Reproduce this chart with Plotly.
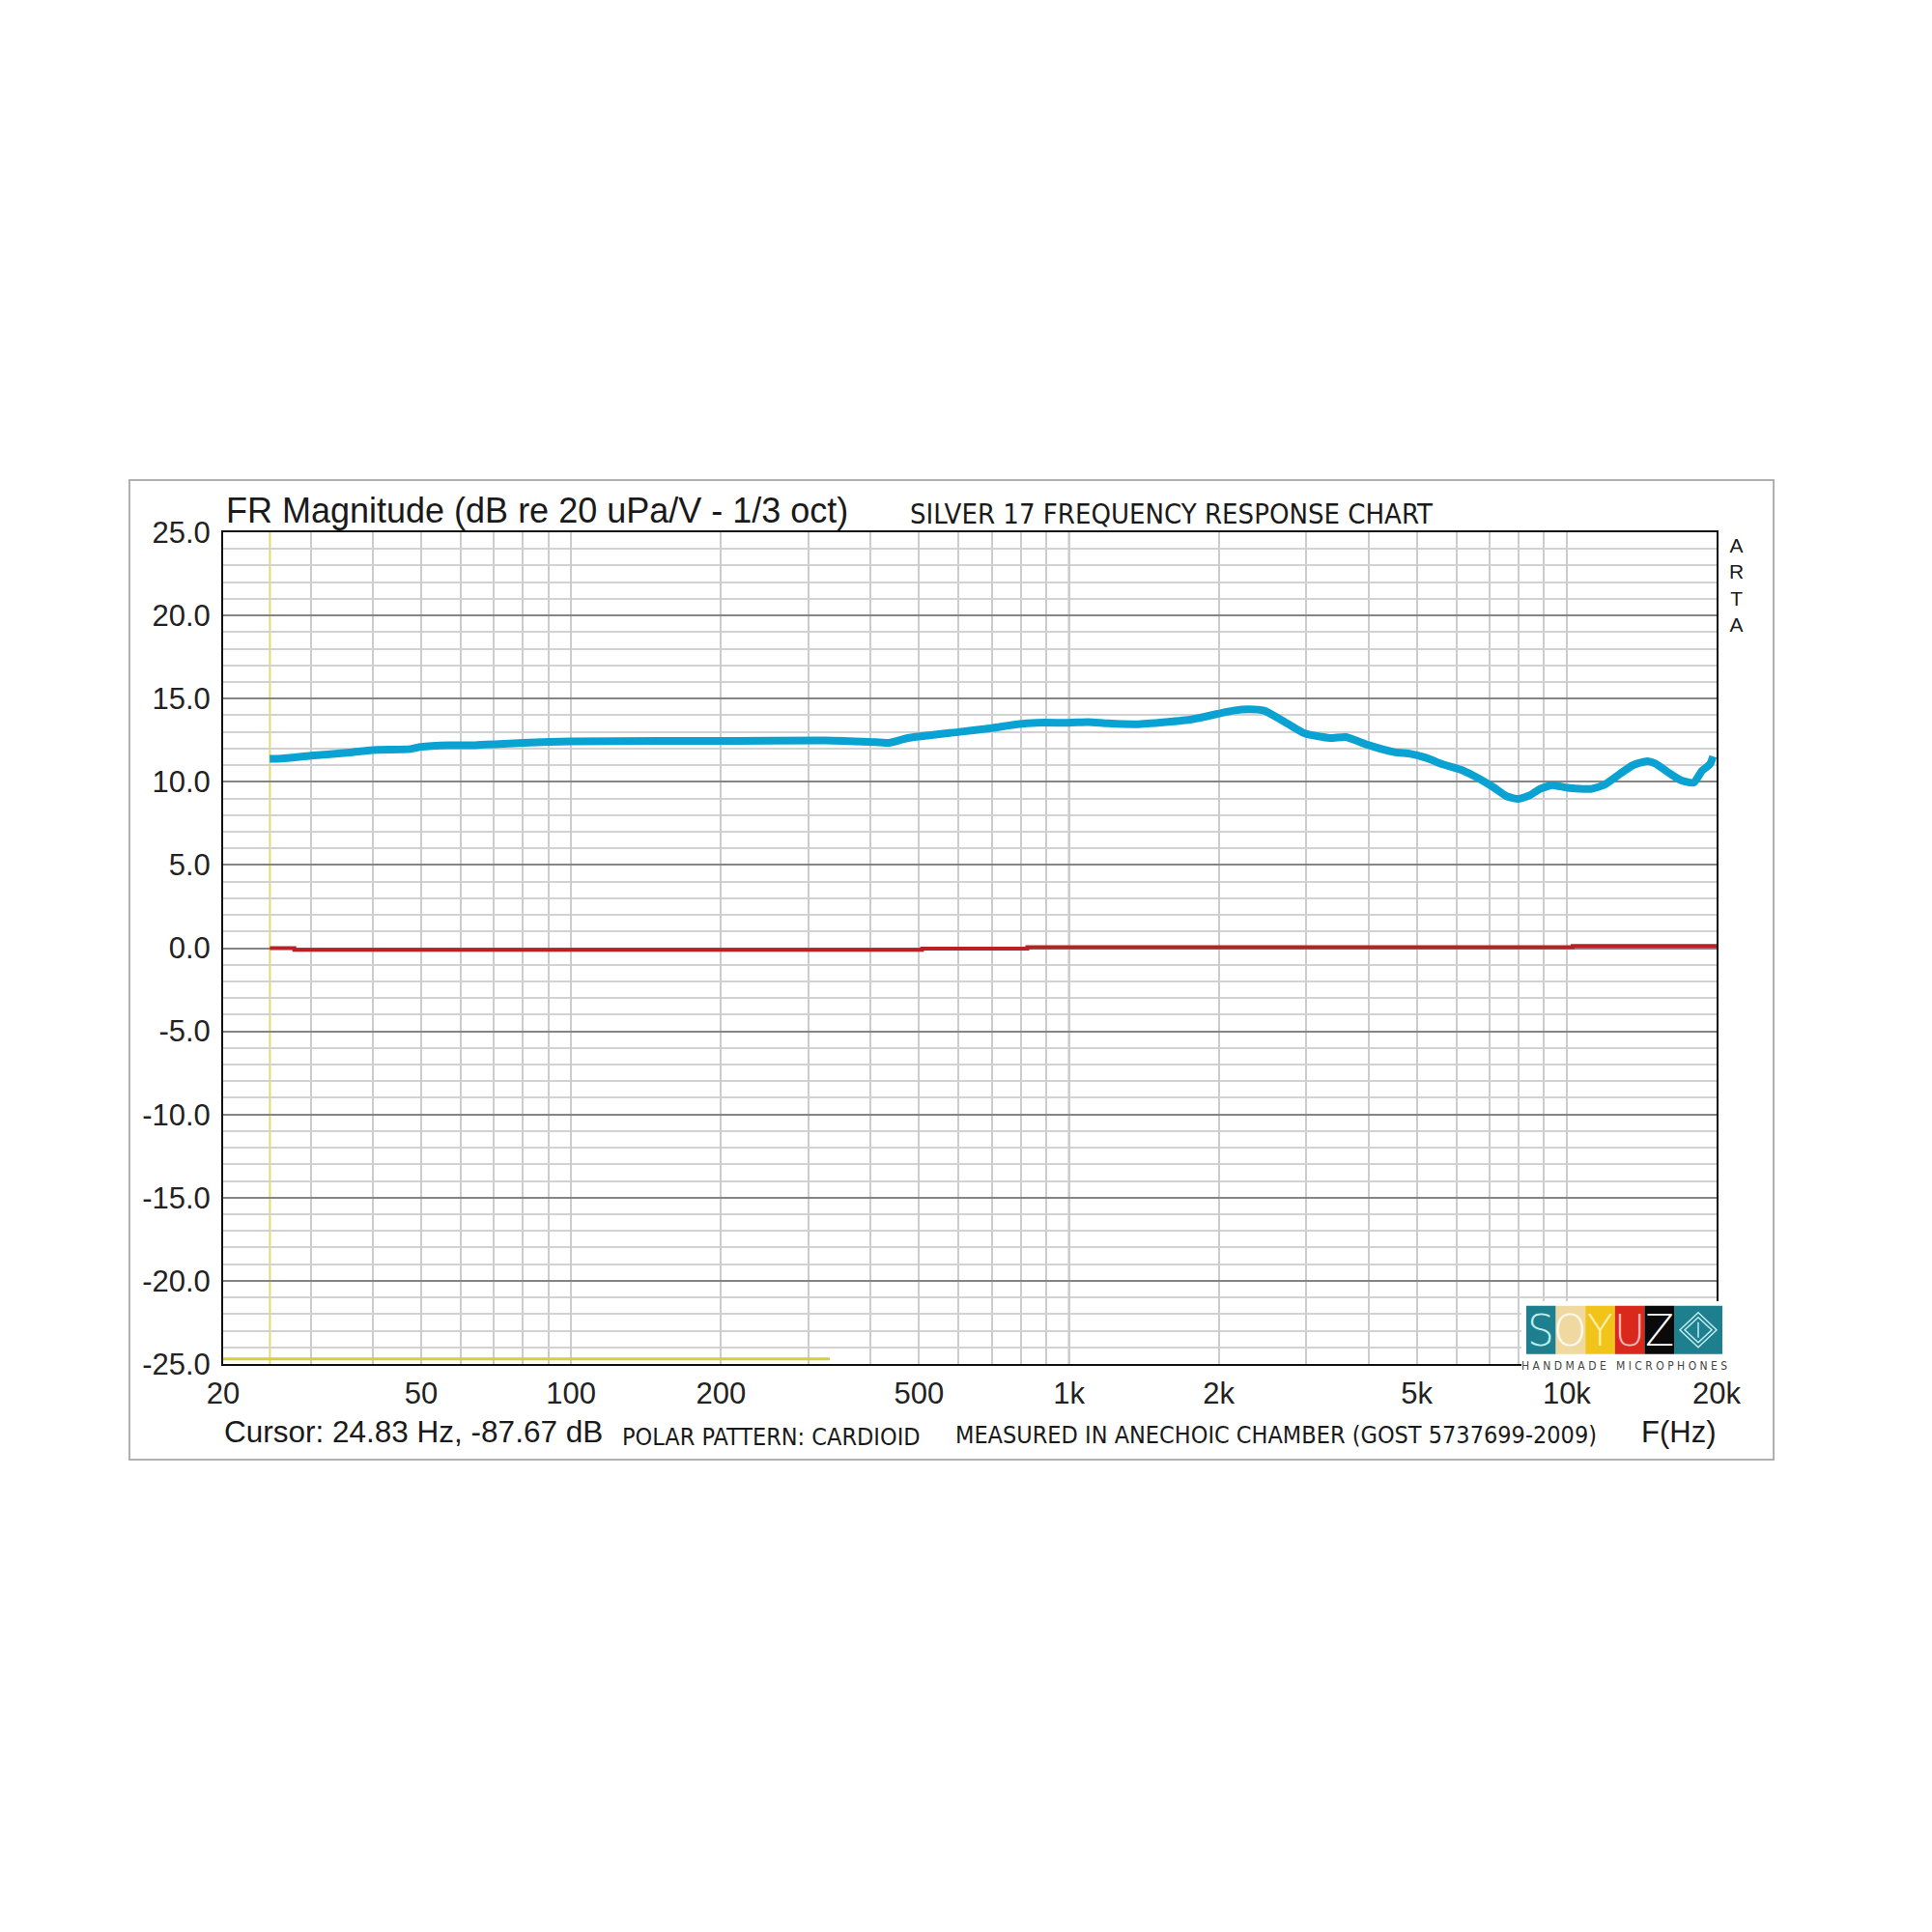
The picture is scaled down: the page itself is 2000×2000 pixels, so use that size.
import numpy as np
import plotly.graph_objects as go

# --- data ---
freq_hz = [24.8, 26.2, 30, 35.9, 39.9, 47.6, 49.9, 56.9, 64.1, 80.1, 90.3, 100,
           150, 199, 323, 398, 435, 475, 603, 700, 788, 862, 1000, 1094, 1197,
           1368, 1565, 1763, 1986, 2140, 2304, 2465, 2675, 2968, 3344, 3603,
           4000, 4506, 4853, 5230, 5634, 6161, 6636, 7150, 7589, 7995, 8424,
           8808, 9345, 10040, 11180, 11870, 12780, 13570, 14510, 15060, 15980,
           16960, 18000, 18690, 19390, 19680]
mag_db = [11.38, 11.40, 11.57, 11.76, 11.91, 11.97, 12.10, 12.20, 12.20, 12.34,
          12.40, 12.43, 12.45, 12.45, 12.49, 12.40, 12.34, 12.63, 13.00, 13.23,
          13.46, 13.55, 13.55, 13.59, 13.51, 13.46, 13.59, 13.75, 14.08, 14.28,
          14.36, 14.28, 13.71, 12.92, 12.63, 12.69, 12.20, 11.78, 11.68, 11.43,
          11.05, 10.70, 10.22, 9.64, 9.12, 8.97, 9.18, 9.55, 9.80, 9.64, 9.57,
          9.80, 10.47, 10.99, 11.24, 11.10, 10.57, 10.09, 9.95, 10.66, 11.05,
          11.53]

ref_freq = [24.83, 27.8, 507, 825, 10280, 20000]
ref_db = [0.0, -0.1, -0.03, 0.06, 0.13, 0.13]

cursor_hz = 24.83
cursor_bar_hz = [20, 331]
cursor_bar_db = [-24.7, -24.7]

x_labels = {20: "20", 50: "50", 100: "100", 200: "200", 500: "500",
            1000: "1k", 2000: "2k", 5000: "5k", 10000: "10k", 20000: "20k"}
x_minor = [30, 40, 60, 70, 80, 90, 300, 400, 600, 700, 800, 900,
           3000, 4000, 6000, 7000, 8000, 9000]
x_decades = [100, 1000, 10000]
y_ticks = [-25, -20, -15, -10, -5, 0, 5, 10, 15, 20, 25]

logo_letters = ["S", "O", "Y", "U", "Z"]
logo_fill = ["#1e7f8e", "#efd9a0", "#f0c419", "#d9291c", "#0a0a0a"]
logo_ink = ["#bfeef2", "#fffaf0", "#fdf0b0", "#f8b8b8", "#ffffff"]

ARIAL = "Liberation Sans, Arial, sans-serif"
THIN = "DejaVu Sans Condensed, sans-serif"

# plot area in page pixels; the page body adds an 8px offset
OFF = 8
L, R, T, B = 231, 1777, 551, 1412


def px(x):
    return (x - L) / (R - L)


def py(y):
    return (B - y) / (B - T)


fig = go.Figure()

fig.add_trace(go.Scatter(x=cursor_bar_hz, y=cursor_bar_db, mode="lines",
                         line=dict(color="#d6cf3a", width=3), hoverinfo="skip"))
fig.add_trace(go.Scatter(x=ref_freq, y=ref_db, mode="lines", line_shape="hv",
                         line=dict(color="#b82226", width=4)))
fig.add_trace(go.Scatter(x=freq_hz, y=mag_db, mode="lines",
                         line=dict(color="#0aa2d2", width=8, shape="spline",
                                   smoothing=0.5)))

shapes = []
for d in x_decades:
    shapes.append(dict(type="line", xref="x", yref="paper", x0=d, x1=d, y0=0, y1=1,
                       line=dict(color="#707070", width=1.5), layer="between"))
shapes.append(dict(type="line", xref="x", yref="paper", x0=cursor_hz, x1=cursor_hz,
                   y0=0, y1=1, line=dict(color="#e2da72", width=2), layer="between"))
# outer frame
shapes.append(dict(type="rect", xref="paper", yref="paper", x0=px(134), x1=px(1836),
                   y0=py(1511), y1=py(497), line=dict(color="#b0b0b0", width=2)))
# logo
shapes.append(dict(type="rect", xref="paper", yref="paper", x0=px(1575), x1=px(1795),
                   y0=py(1424), y1=py(1347), fillcolor="white", line=dict(width=0),
                   layer="above"))
bx = 1580
bw = 30.6
annotations = []
for i, (ch, fc, ink) in enumerate(zip(logo_letters, logo_fill, logo_ink)):
    x0 = bx + i * bw
    shapes.append(dict(type="rect", xref="paper", yref="paper", x0=px(x0), x1=px(x0 + bw),
                       y0=py(1401.7), y1=py(1351.7), fillcolor=fc, line=dict(width=0),
                       layer="above"))
    annotations.append(dict(x=px(x0 + bw / 2), y=py(1377), text=ch, showarrow=False,
                            xref="paper", yref="paper", xanchor="center", yanchor="middle",
                            font=dict(family="DejaVu Sans, sans-serif", size=44,
                                      color=ink, weight=200)))
x0 = bx + 5 * bw
shapes.append(dict(type="rect", xref="paper", yref="paper", x0=px(x0), x1=px(1783),
                   y0=py(1401.7), y1=py(1351.7), fillcolor="#1e7f8e", line=dict(width=0),
                   layer="above"))
cx, cy = (x0 + 1783) / 2, 1376.7
for hw, hh in [(19, 18), (14, 13)]:
    path = "M {} {} L {} {} L {} {} L {} {} Z".format(
        px(cx - hw), py(cy), px(cx), py(cy - hh), px(cx + hw), py(cy), px(cx), py(cy + hh))
    shapes.append(dict(type="path", xref="paper", yref="paper", path=path,
                       line=dict(color="#bfeef2", width=1.5), layer="above"))
shapes.append(dict(type="line", xref="paper", yref="paper", x0=px(cx), x1=px(cx),
                   y0=py(cy + 8), y1=py(cy - 8), line=dict(color="#bfeef2", width=1.5),
                   layer="above"))
annotations.append(dict(x=px(1681.5), y=py(1413.5),
                        text="H A N D M A D E &nbsp; M I C R O P H O N E S",
                        showarrow=False, xref="paper", yref="paper",
                        xanchor="center", yanchor="middle",
                        font=dict(family=THIN, size=12, color="#444444")))


def note(x, y, text, size, family=ARIAL, anchor="left", color="#1a1a1a"):
    annotations.append(dict(x=px(x), y=py(y), text=text, showarrow=False,
                            xref="paper", yref="paper", xanchor=anchor, yanchor="middle",
                            font=dict(family=family, size=size, color=color)))


note(232, 528, "FR Magnitude (dB re 20 uPa/V - 1/3 oct)", 36)
note(940, 532, "SILVER 17 FREQUENCY RESPONSE CHART", 29, THIN)
note(1797, 605, "A<br>R<br>T<br>A", 21, anchor="center")
note(230, 1482, "Cursor: 24.83 Hz, -87.67 dB", 31.5)
note(642, 1487, "POLAR PATTERN: CARDIOID", 25, THIN)
note(987, 1485, "MEASURED IN ANECHOIC CHAMBER (GOST 5737699-2009)", 25, THIN)
note(1737, 1482, "F(Hz)", 31, anchor="center")

fig.update_layout(
    width=2000, height=2000, autosize=False,
    margin=dict(l=L - OFF, r=2000 - R + OFF, t=T - OFF, b=2000 - B + OFF, pad=0),
    paper_bgcolor="white", plot_bgcolor="white",
    showlegend=False,
    shapes=shapes, annotations=annotations,
    xaxis=dict(type="log", range=[np.log10(20), np.log10(20000)],
               tickmode="array", tickvals=list(x_labels.keys()),
               ticktext=list(x_labels.values()),
               showgrid=True, gridcolor="#cccccc", gridwidth=2,
               minor=dict(tickmode="array", tickvals=x_minor, showgrid=True,
                          gridcolor="#cccccc", gridwidth=2, ticks=""),
               showline=True, mirror=True, linecolor="#111111", linewidth=2,
               ticks="", ticklabelstandoff=2, zeroline=False,
               tickfont=dict(family=ARIAL, size=31, color="#222222")),
    yaxis=dict(range=[-25, 25], tickmode="array", tickvals=y_ticks,
               ticktext=["{:.1f}".format(v) for v in y_ticks],
               showgrid=True, gridcolor="#858585", gridwidth=1.5,
               minor=dict(tickmode="linear", tick0=0, dtick=1, showgrid=True,
                          gridcolor="#d2d2d2", gridwidth=2, ticks=""),
               showline=True, mirror=True, linecolor="#111111", linewidth=2,
               ticks="", ticklabelstandoff=5, zeroline=False,
               tickfont=dict(family=ARIAL, size=31, color="#222222")),
)

fig.write_html("out.html")
